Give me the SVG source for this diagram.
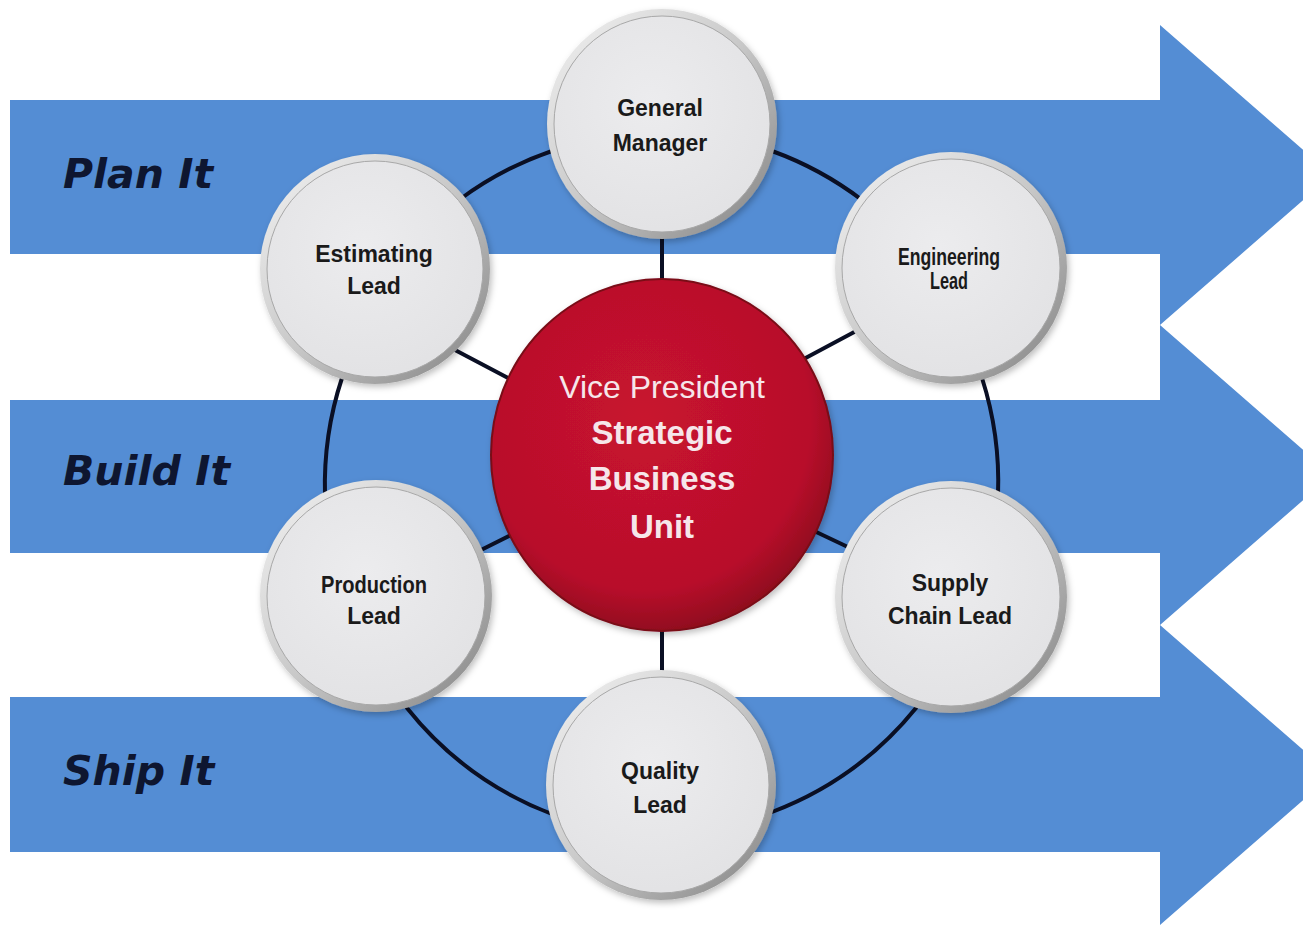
<svg xmlns="http://www.w3.org/2000/svg" width="1303" height="925" viewBox="0 0 1303 925">
  <defs>
    <linearGradient id="bezel" x1="0" y1="0" x2="1" y2="1">
      <stop offset="0" stop-color="#f4f4f4"/>
      <stop offset="0.5" stop-color="#c8c8c8"/>
      <stop offset="1" stop-color="#808080"/>
    </linearGradient>
    <radialGradient id="face" cx="0.45" cy="0.4" r="0.65">
      <stop offset="0" stop-color="#ececee"/>
      <stop offset="1" stop-color="#e2e2e4"/>
    </radialGradient>
    <radialGradient id="red" cx="0.45" cy="0.4" r="0.62">
      <stop offset="0" stop-color="#c8132f"/>
      <stop offset="0.78" stop-color="#b80f2b"/>
      <stop offset="1" stop-color="#8c0a1d"/>
    </radialGradient>
    <filter id="shadow" x="-20%" y="-20%" width="140%" height="140%">
      <feDropShadow dx="2" dy="3" stdDeviation="3" flood-color="#000" flood-opacity="0.25"/>
    </filter>
  </defs>
  <style>
    .band { fill: #548dd4; }
    .side { font-family: "DejaVu Sans", Verdana, sans-serif; font-weight: bold; font-style: italic; font-size: 41px; fill: #0e1630; }
    .conn { fill: none; stroke: #0a0f24; stroke-width: 4; stroke-linecap: round; }
    .bz { fill: url(#bezel); filter: url(#shadow); }
    .fc { fill: url(#face); stroke: #a8a8a8; stroke-width: 1; }
    .lbl { font-family: "Liberation Sans", Arial, sans-serif; font-weight: bold; font-size: 23px; fill: #1a1a1a; text-anchor: middle; }
    .vp { font-family: "Liberation Sans", Arial, sans-serif; fill: #f6e6ea; text-anchor: middle; }
  </style>
  <rect width="1303" height="925" fill="#ffffff"/>

  <g id="arrows">
    <polygon class="band" points="10,100 1160,100 1160,25 1332,175 1160,325 1160,254 10,254"/>
    <polygon class="band" points="10,400 1160,400 1160,325 1332,475 1160,625 1160,553 10,553"/>
    <polygon class="band" points="10,697 1160,697 1160,625 1332,775 1160,925 1160,852 10,852"/>
  </g>

  <g id="stage-labels">
    <text class="side" x="63" y="188">Plan It</text>
    <text class="side" x="63" y="485">Build It</text>
    <text class="side" x="63" y="785">Ship It</text>
  </g>

  <g id="connectors">
    <path class="conn" d="M772,151 A340,340 0 0 1 862,200"/>
    <path class="conn" d="M982,378 A340,340 0 0 1 998,495"/>
    <path class="conn" d="M916,708 A340,340 0 0 1 772,812"/>
    <path class="conn" d="M552,814 A340,340 0 0 1 407,708"/>
    <path class="conn" d="M325,495 A340,340 0 0 1 342,378"/>
    <path class="conn" d="M459,200 A340,340 0 0 1 552,151"/>
    <line class="conn" x1="662" y1="235" x2="662" y2="282"/>
    <line class="conn" x1="662" y1="628" x2="662" y2="672"/>
    <line class="conn" x1="455" y1="350" x2="512" y2="380"/>
    <line class="conn" x1="858" y1="330" x2="800" y2="361"/>
    <line class="conn" x1="475" y1="553" x2="515" y2="533"/>
    <line class="conn" x1="812" y1="530" x2="850" y2="548"/>
  </g>

  <g id="vp">
    <ellipse cx="662" cy="455" rx="171" ry="176" fill="url(#red)" stroke="#7a0818" stroke-width="2" filter="url(#shadow)"/>
    <text class="vp" x="662" y="398" font-size="32">Vice President</text>
    <text class="vp" x="662" y="444" font-size="33" font-weight="bold">Strategic</text>
    <text class="vp" x="662" y="490" font-size="33" font-weight="bold">Business</text>
    <text class="vp" x="662" y="538" font-size="33" font-weight="bold">Unit</text>
  </g>

  <g id="general-manager">
    <circle class="bz" cx="662" cy="124" r="115"/>
    <circle class="fc" cx="662" cy="124" r="108"/>
    <text class="lbl" x="660" y="116">General</text>
    <text class="lbl" x="660" y="151">Manager</text>
  </g>

  <g id="engineering-lead">
    <circle class="bz" cx="951" cy="268" r="116"/>
    <circle class="fc" cx="951" cy="268" r="109"/>
    <text class="lbl" x="949" y="265" font-size="20" textLength="102" lengthAdjust="spacingAndGlyphs">Engineering</text>
    <text class="lbl" x="949" y="289" font-size="20" textLength="38" lengthAdjust="spacingAndGlyphs">Lead</text>
  </g>

  <g id="supply-chain-lead">
    <circle class="bz" cx="951" cy="597" r="116"/>
    <circle class="fc" cx="951" cy="597" r="109"/>
    <text class="lbl" x="950" y="591">Supply</text>
    <text class="lbl" x="950" y="624" textLength="124" lengthAdjust="spacingAndGlyphs">Chain Lead</text>
  </g>

  <g id="quality-lead">
    <circle class="bz" cx="661" cy="785" r="115"/>
    <circle class="fc" cx="661" cy="785" r="108"/>
    <text class="lbl" x="660" y="779" font-size="22">Quality</text>
    <text class="lbl" x="660" y="813" font-size="22">Lead</text>
  </g>

  <g id="production-lead">
    <circle class="bz" cx="376" cy="596" r="116"/>
    <circle class="fc" cx="376" cy="596" r="109"/>
    <text class="lbl" x="374" y="593" font-size="21" textLength="106" lengthAdjust="spacingAndGlyphs">Production</text>
    <text class="lbl" x="374" y="624" font-size="21">Lead</text>
  </g>

  <g id="estimating-lead">
    <circle class="bz" cx="375" cy="269" r="115"/>
    <circle class="fc" cx="375" cy="269" r="108"/>
    <text class="lbl" x="374" y="262">Estimating</text>
    <text class="lbl" x="374" y="294">Lead</text>
  </g>
</svg>
